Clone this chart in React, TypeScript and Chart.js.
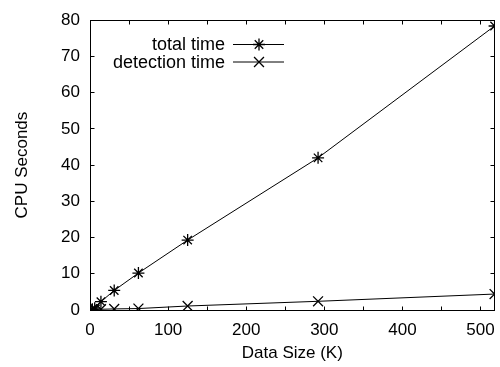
import React, { useEffect, useRef } from 'react';
import { Chart, registerables } from 'chart.js';

Chart.register(...registerables);

// ---- data ----
const dataSizes = [3, 6, 14, 31, 62, 125, 292, 518];
const totalTime = [0.2, 0.5, 2.3, 5.4, 10.2, 19.3, 42.0, 78.4];
const detectionTime = [0.1, 0.1, 0.2, 0.3, 0.4, 1.1, 2.4, 4.4];
const xTickLabels = [0, 100, 200, 300, 400, 500];
const xTickMarks = [0, 50, 100, 150, 200, 250, 300, 350, 400, 450, 500];
const yTickLabels = [0, 10, 20, 30, 40, 50, 60, 70, 80];
const legendLabels = ['total time', 'detection time'];
const X_MIN = 0;
const X_MAX = 518;
const Y_MIN = 0;
const Y_MAX = 80;

const FONT = "'Liberation Sans', Arial, Helvetica, sans-serif";
const TICK_LEN = 4;

function drawMarker(ctx: CanvasRenderingContext2D, style: string, x: number, y: number, r: number) {
  ctx.beginPath();
  if (style === 'star') {
    ctx.moveTo(x - r, y); ctx.lineTo(x + r, y);
    ctx.moveTo(x, y - r); ctx.lineTo(x, y + r);
    const d = r * Math.SQRT1_2;
    ctx.moveTo(x - d, y - d); ctx.lineTo(x + d, y + d);
    ctx.moveTo(x - d, y + d); ctx.lineTo(x + d, y - d);
  } else {
    const d = r * Math.SQRT1_2;
    ctx.moveTo(x - d, y - d); ctx.lineTo(x + d, y + d);
    ctx.moveTo(x - d, y + d); ctx.lineTo(x + d, y - d);
  }
  ctx.stroke();
}

const framePlugin = {
  id: 'gnuFrame',
  beforeDatasetsDraw(chart: any) {
    const { ctx, chartArea: a, scales } = chart;
    ctx.save();
    ctx.strokeStyle = '#000';
    ctx.lineWidth = 1;
    const L = Math.floor(a.left) + 0.5;
    const R = Math.floor(a.right) + 0.5;
    const T = Math.floor(a.top) + 0.5;
    const B = Math.floor(a.bottom) + 0.5;
    ctx.strokeRect(L, T, R - L, B - T);
    ctx.beginPath();
    for (const v of xTickMarks) {
      const x = Math.floor(scales.x.getPixelForValue(v)) + 0.5;
      ctx.moveTo(x, B); ctx.lineTo(x, B - TICK_LEN);
      ctx.moveTo(x, T); ctx.lineTo(x, T + TICK_LEN);
    }
    for (const v of yTickLabels) {
      const y = Math.floor(scales.y.getPixelForValue(v)) + 0.5;
      ctx.moveTo(L, y); ctx.lineTo(L + TICK_LEN, y);
      ctx.moveTo(R, y); ctx.lineTo(R - TICK_LEN, y);
    }
    ctx.stroke();
    ctx.restore();
  },
  afterDatasetsDraw(chart: any) {
    const { ctx } = chart;
    ctx.save();
    ctx.font = `18px ${FONT}`;
    ctx.fillStyle = '#000';
    ctx.textAlign = 'right';
    ctx.textBaseline = 'middle';
    const textRight = 225;
    const lineL = 233;
    const lineR = 284;
    const rows = [44.5, 62];
    chart.data.datasets.forEach((ds: any, i: number) => {
      const y = rows[i];
      ctx.fillText(legendLabels[i], textRight, y + 1);
      ctx.strokeStyle = ds.borderColor;
      ctx.lineWidth = 1;
      ctx.beginPath();
      ctx.moveTo(lineL, y); ctx.lineTo(lineR, y);
      ctx.stroke();
      ctx.lineWidth = ds.pointBorderWidth;
      drawMarker(ctx, ds.pointStyle, (lineL + lineR) / 2 + 0.5, y, ds.pointRadius);
    });
    ctx.restore();
  },
};

export default function App() {
  const ref = useRef<HTMLCanvasElement | null>(null);

  useEffect(() => {
    if (!ref.current) return;
    const chart = new Chart(ref.current, {
      type: 'scatter',
      data: {
        datasets: [
          {
            label: legendLabels[0],
            data: dataSizes.map((x, i) => ({ x, y: totalTime[i] })),
            showLine: true,
            borderColor: '#000',
            backgroundColor: '#000',
            borderWidth: 1,
            pointStyle: 'star',
            pointRadius: 6,
            pointBorderWidth: 1.3,
            pointBorderColor: '#000',
          },
          {
            label: legendLabels[1],
            data: dataSizes.map((x, i) => ({ x, y: detectionTime[i] })),
            showLine: true,
            borderColor: '#000',
            backgroundColor: '#000',
            borderWidth: 1,
            pointStyle: 'crossRot',
            pointRadius: 7,
            pointBorderWidth: 1.3,
            pointBorderColor: '#000',
          },
        ],
      },
      options: {
        animation: false,
        responsive: false,
        maintainAspectRatio: false,
        layout: { padding: { top: 15, right: 5, left: 0, bottom: 0 } },
        plugins: {
          legend: { display: false },
          tooltip: { enabled: false },
        },
        font: { family: FONT },
        scales: {
          x: {
            type: 'linear',
            min: X_MIN,
            max: X_MAX,
            grid: { display: false, drawTicks: false },
            border: { display: false },
            afterBuildTicks: (s: any) => { s.ticks = xTickLabels.map((v) => ({ value: v })); },
            afterFit: (s: any) => { s.height = 57; },
            ticks: {
              color: '#000',
              padding: 10,
              maxRotation: 0,
              autoSkip: false,
              font: { family: FONT, size: 17 },
            },
            title: {
              display: true,
              text: 'Data Size (K)',
              color: '#000',
              font: { family: FONT, size: 17 },
              padding: { top: 0, bottom: 3 },
            },
          },
          y: {
            type: 'linear',
            min: Y_MIN,
            max: Y_MAX,
            grid: { display: false, drawTicks: false },
            border: { display: false },
            afterBuildTicks: (s: any) => { s.ticks = yTickLabels.map((v) => ({ value: v })); },
            afterFit: (s: any) => { s.width = 90; },
            ticks: {
              color: '#000',
              padding: 10,
              autoSkip: false,
              font: { family: FONT, size: 17 },
            },
            title: {
              display: true,
              text: 'CPU Seconds',
              color: '#000',
              font: { family: FONT, size: 17 },
              padding: { top: 12, bottom: 0 },
            },
          },
        },
      },
      plugins: [framePlugin],
    } as any);
    return () => chart.destroy();
  }, []);

  return (
    <div style={{ position: 'absolute', left: 0, top: 0, width: 500, height: 367, overflow: 'hidden', background: '#fff' }}>
      <canvas ref={ref} width={505} height={367} style={{ display: 'block', width: 505, height: 367 }} />
    </div>
  );
}
